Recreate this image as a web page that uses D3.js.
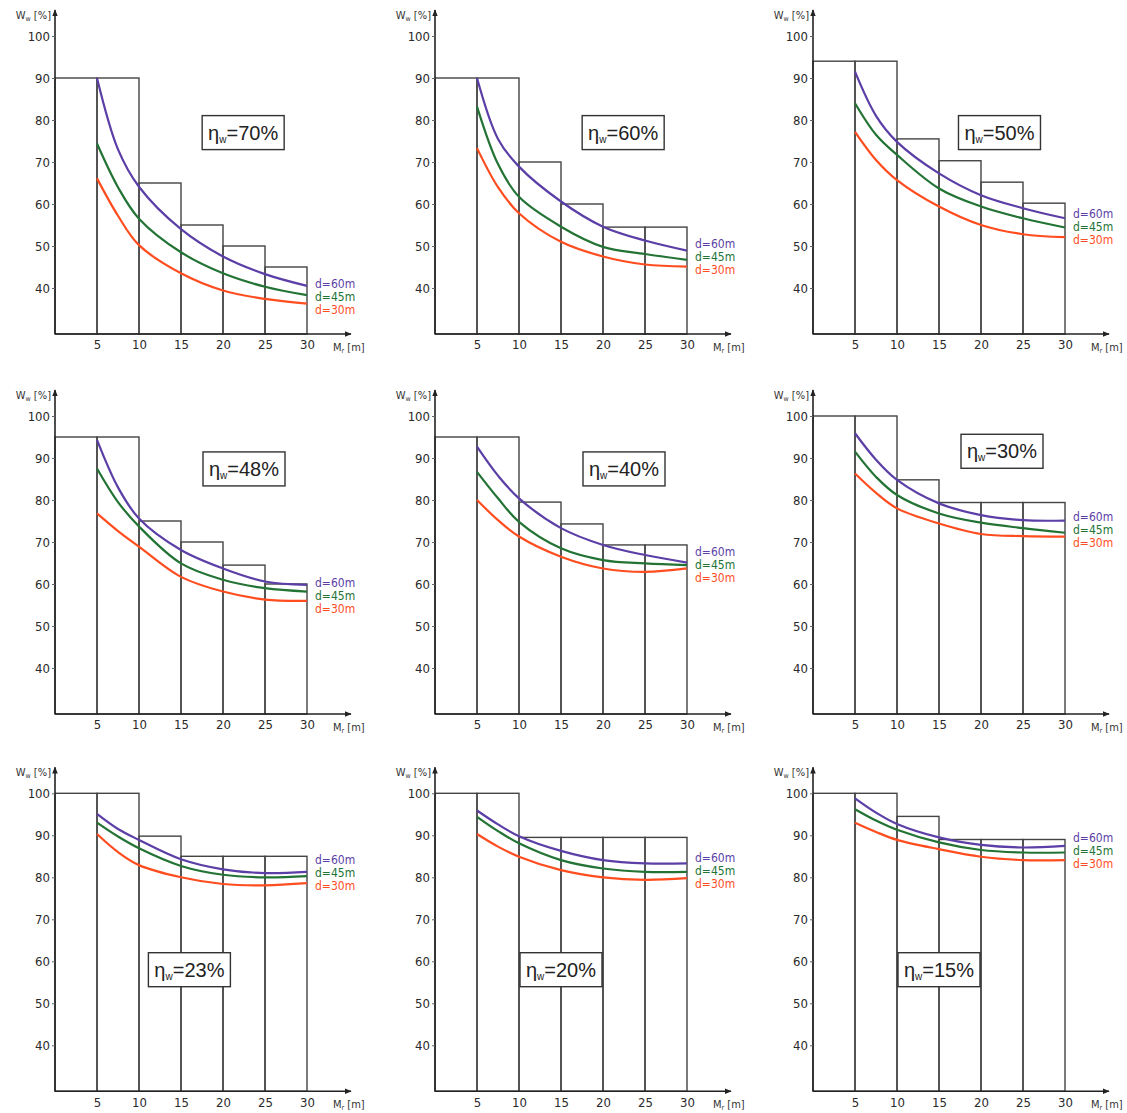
<!DOCTYPE html>
<html>
<head>
<meta charset="utf-8">
<script src="https://cdn.jsdelivr.net/npm/d3@7"></script>
<style>
  body { margin: 0; background: #fff; }
  svg text { font-family: "DejaVu Sans Condensed", "DejaVu Sans", sans-serif; }
</style>
</head>
<body>
<div id="chart"></div>
<script>
// Efficiency panels: W_w vs M_r for three distances d

const etas = [70, 60, 50, 48, 40, 30, 23, 20, 15];
const binEdges = [0, 5, 10, 15, 20, 25, 30];
const xPoints = [5, 7.5, 10, 15, 20, 25, 30];
const yTicks = [40, 50, 60, 70, 80, 90, 100];
const xTicks = [5, 10, 15, 20, 25, 30];
const seriesNames = ["d=60m", "d=45m", "d=30m"];

// step heights for each 5 m bin
const barHeights = [
    [90, 90, 65, 55, 50, 45],
    [90, 90, 70, 60, 54.5, 54.5],
    [94, 94, 75.5, 70.3, 65.2, 60.2],
    [95, 95, 75, 70, 64.5, 60],
    [95, 95, 79.5, 74.3, 69.3, 69.3],
    [100, 100, 84.8, 79.4, 79.4, 79.4],
    [100, 100, 89.8, 85, 85, 85],
    [100, 100, 89.5, 89.5, 89.5, 89.5],
    [100, 100, 94.5, 89, 89, 89]
];

const d60 = [
    [90, 73, 64.1, 54, 47.5, 43.3, 40.5],
    [90, 75.5, 68.9, 60.6, 54.6, 51.3, 48.9],
    [91.5, 81, 74.8, 67.3, 62.1, 59, 56.6],
    [94.3, 83, 75.6, 68.1, 63.7, 60.6, 59.8],
    [92.7, 85.8, 80.4, 73.3, 69.3, 66.9, 65.1],
    [95.9, 89.6, 84.8, 79.2, 76.4, 75.2, 75.1],
    [95.1, 91.5, 88.9, 84.3, 81.9, 81, 81.3],
    [95.9, 92.6, 89.8, 86.3, 84.1, 83.3, 83.3],
    [98.8, 95.4, 92.7, 89.5, 87.7, 87.1, 87.5]
];
const d45 = [
    [74.4, 64, 56.5, 48.5, 43.5, 40.3, 38.3],
    [83.2, 69.5, 61.7, 54.6, 49.8, 48.1, 46.7],
    [84, 76.5, 71.7, 63.7, 59.4, 56.6, 54.4],
    [87.5, 79.5, 73.7, 64.9, 61, 59, 58.2],
    [86.7, 80.4, 74.8, 68.5, 65.7, 64.9, 64.5],
    [91.5, 85.5, 81.2, 76.8, 74.6, 73.3, 72.2],
    [93, 89.7, 86.9, 82.7, 80.6, 80, 80.3],
    [94.4, 91, 88.1, 84.1, 82.1, 81.3, 81.3],
    [96.2, 93.5, 91.3, 88.3, 86.5, 85.9, 85.9]
];
const d30 = [
    [66.1, 57.2, 50.2, 43.5, 39.4, 37.4, 36.3],
    [73.3, 64, 57.8, 51, 47.5, 45.6, 45.1],
    [77.2, 70.5, 65.7, 59.4, 55, 52.8, 52.1],
    [76.8, 72.6, 68.9, 61.7, 58.2, 56.3, 56],
    [80, 75.2, 71.3, 66.5, 63.7, 62.9, 63.7],
    [86.3, 81.7, 78, 74.4, 71.9, 71.4, 71.3],
    [90.3, 86, 82.9, 80, 78.4, 78.1, 78.6],
    [90.3, 87.3, 84.9, 81.7, 80, 79.4, 79.8],
    [93, 90.8, 88.9, 86.7, 84.9, 84.1, 84.1]
];

// layout only: label box centre (data units) and legend top value
const boxPos = [[22.4, 77], [22.4, 77], [22.2, 77], [22.5, 87.4], [22.5, 87.4],
                [22.5, 91.6], [16, 58], [15, 58], [15, 58]];
const legendTop = [41, 50.5, 57.6, 60.2, 67.6, 76, 84.1, 84.6, 89.4];

const colors = ["#5b3ea6", "#237335", "#ff4d1f"];

const width = 1127, height = 1113;
const svg = d3.select("#chart").append("svg")
    .attr("width", width)
    .attr("height", height);

const defs = svg.append("defs");
defs.append("marker")
    .attr("id", "arrow")
    .attr("viewBox", "0 0 10 10")
    .attr("refX", 9).attr("refY", 5)
    .attr("markerWidth", 7).attr("markerHeight", 7)
    .attr("markerUnits", "userSpaceOnUse")
    .attr("orient", "auto")
    .append("path")
    .attr("d", "M0,1 L10,5 L0,9 Z")
    .attr("fill", "#222");

const colX = [55, 435, 813];
const rowY = [36, 416, 793.3];
const plotW = 252, plotH = 252;

etas.forEach((eta, i) => {
    const ox = colX[i % 3], oy = rowY[Math.floor(i / 3)];
    const x = d3.scaleLinear().domain([0, 30]).range([ox, ox + plotW]);
    const y = d3.scaleLinear().domain([100, 40]).range([oy, oy + plotH]);
    const base = y(29.05);
    const g = svg.append("g");

    // step rectangles
    g.append("g")
        .selectAll("rect")
        .data(barHeights[i])
        .join("rect")
        .attr("x", (d, j) => x(binEdges[j]))
        .attr("y", d => y(d))
        .attr("width", (d, j) => x(binEdges[j + 1]) - x(binEdges[j]))
        .attr("height", d => base - y(d))
        .attr("fill", "none")
        .attr("stroke", "#444")
        .attr("stroke-width", 1.4);

    // curves
    const line = d3.line()
        .x((d, j) => x(xPoints[j]))
        .y(d => y(d))
        .curve(d3.curveCatmullRom.alpha(0.5));
    [d60[i], d45[i], d30[i]].forEach((vals, k) => {
        g.append("path")
            .attr("d", line(vals))
            .attr("fill", "none")
            .attr("stroke", colors[k])
            .attr("stroke-width", 2.2);
    });

    // legend
    seriesNames.forEach((name, k) => {
        g.append("text")
            .attr("x", x(30) + 8)
            .attr("y", y(legendTop[i]) + k * 13)
            .attr("dy", "0.35em")
            .style("font-size", "12px")
            .style("fill", colors[k])
            .text(name);
    });

    // axes lines with arrows
    g.append("line")
        .attr("x1", x(0)).attr("y1", base)
        .attr("x2", x(0)).attr("y2", oy - 26)
        .attr("stroke", "#222").attr("stroke-width", 1.6)
        .attr("marker-end", "url(#arrow)");
    g.append("line")
        .attr("x1", x(0)).attr("y1", base)
        .attr("x2", x(0) + 296).attr("y2", base)
        .attr("stroke", "#222").attr("stroke-width", 1.6)
        .attr("marker-end", "url(#arrow)");

    const yAxis = g.append("g")
        .attr("transform", `translate(${x(0)},0)`)
        .call(d3.axisLeft(y).tickValues(yTicks).tickSize(3).tickPadding(2));
    yAxis.select(".domain").remove();
    yAxis.selectAll("text").style("font-size", "13px").style("fill", "#2a2a2a");
    yAxis.selectAll("line").attr("stroke", "#666");

    const xAxis = g.append("g")
        .attr("transform", `translate(0,${base})`)
        .call(d3.axisBottom(x).tickValues(xTicks).tickSize(0).tickPadding(6));
    xAxis.select(".domain").remove();
    xAxis.selectAll("text").style("font-size", "13px").style("fill", "#2a2a2a");

    // axis titles
    const yt = g.append("text")
        .attr("x", x(0) - 4).attr("y", oy - 17)
        .attr("text-anchor", "end")
        .style("font-size", "11px").style("fill", "#333");
    yt.append("tspan").text("W");
    yt.append("tspan").attr("dy", 2).style("font-size", "7px").text("w");
    yt.append("tspan").attr("dy", -2).text(" [%]");

    const xt = g.append("text")
        .attr("x", x(30) + 26).attr("y", base + 17)
        .style("font-size", "11px").style("fill", "#333");
    xt.append("tspan").text("M");
    xt.append("tspan").attr("dy", 2).style("font-size", "7px").text("r");
    xt.append("tspan").attr("dy", -2).text(" [m]");

    // eta box
    const bx = x(boxPos[i][0]), by = y(boxPos[i][1]);
    g.append("rect")
        .attr("x", bx - 41).attr("y", by - 17)
        .attr("width", 82).attr("height", 34)
        .attr("fill", "#fff")
        .attr("stroke", "#333").attr("stroke-width", 1.4);
    const lt = g.append("text")
        .attr("x", bx).attr("y", by + 7)
        .attr("text-anchor", "middle")
        .style("font-family", "'Liberation Sans', Arial, sans-serif")
        .style("font-size", "20px").style("fill", "#222");
    lt.append("tspan").text("η");
    lt.append("tspan").attr("dy", 3).style("font-size", "10px").text("w");
    lt.append("tspan").attr("dy", -3).text("=" + eta + "%");
});
</script>
</body>
</html>
